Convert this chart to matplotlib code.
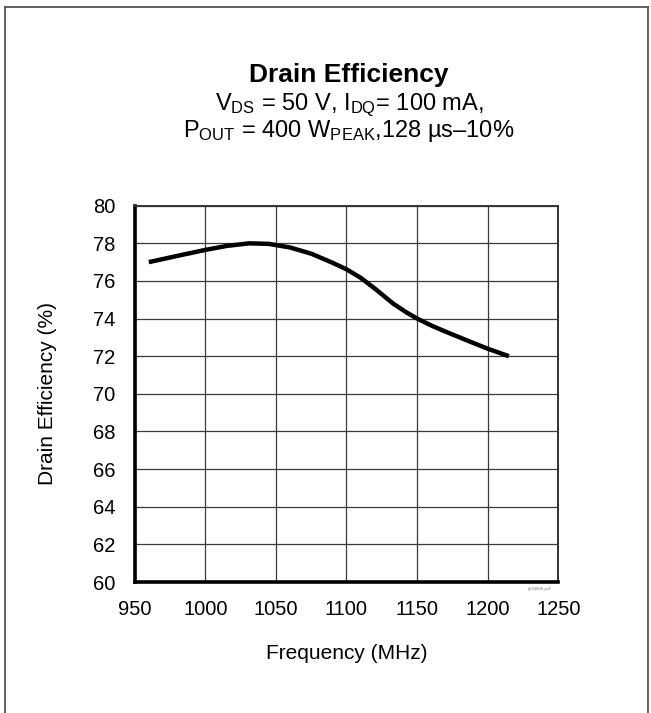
import matplotlib
matplotlib.use("Agg")
import matplotlib.pyplot as plt
from matplotlib.lines import Line2D

plt.rcParams['font.family'] = ['Liberation Sans', 'DejaVu Sans']
plt.rcParams['mathtext.fontset'] = 'custom'
plt.rcParams['mathtext.rm'] = 'Liberation Sans'
plt.rcParams['mathtext.it'] = 'Liberation Sans'

freq = [960, 980, 1000, 1015, 1031, 1045, 1060, 1075, 1090, 1100, 1110, 1120,
        1133, 1142, 1150, 1161, 1172, 1185, 1200, 1215]
eff = [77.0, 77.33, 77.65, 77.86, 78.0, 77.97, 77.78, 77.45, 76.97, 76.62, 76.17, 75.6,
       74.8, 74.35, 74.0, 73.6, 73.25, 72.85, 72.4, 72.0]

xticks = [950, 1000, 1050, 1100, 1150, 1200, 1250]
yticks = [60, 62, 64, 66, 68, 70, 72, 74, 76, 78, 80]

W, H = 651, 713
fig = plt.figure(figsize=(W / 100, H / 100), dpi=100)
ax = fig.add_axes([134.7 / W, 1 - 582 / H, (558.3 - 134.7) / W, (582 - 205.7) / H])

ax.plot(freq, eff, color='black', lw=3.2, solid_capstyle='butt', solid_joinstyle='round')

ax.set_xlim(950, 1250)
ax.set_ylim(60, 80)
ax.set_xticks(xticks)
ax.set_yticks(yticks)
ax.grid(True, color='#3a3a3a', lw=0.9)
ax.tick_params(axis='x', length=0, labelsize=14.5, pad=13)
ax.tick_params(axis='y', length=0, labelsize=14.5, pad=14)
for s in ['left', 'bottom']:
    ax.spines[s].set_linewidth(2.6)
    ax.spines[s].set_color('black')
for s in ['top', 'right']:
    ax.spines[s].set_linewidth(1.4)
    ax.spines[s].set_color('#333333')

ax.set_xlabel('Frequency (MHz)', fontsize=15, labelpad=18)
ax.set_ylabel('Drain Efficiency (%)', fontsize=15, labelpad=26)

fig.text(349 / W, 1 - 75 / H, 'Drain Efficiency', ha='center', va='center',
         fontsize=19, fontweight='bold')
fig.text(349 / W, 1 - 105 / H, r'V$_{\mathrm{DS}}$ = 50 V, I$_{\mathrm{DQ}}$= 100 mA,',
         ha='center', va='center', fontsize=17)
fig.text(349 / W, 1 - 131 / H, r'P$_{\mathrm{OUT}}$ = 400 W$_{\mathrm{PEAK}}$,128 µs–10%',
         ha='center', va='center', fontsize=17)
fig.text(540 / W, 1 - 589 / H, 'g50460fr-gr4', ha='center', va='center',
         fontsize=3, color='#777777')

# frame round the page
for xs, ys in [([5, 5], [713, 7]), ([5, 648], [7, 7]), ([648, 648], [7, 713])]:
    fig.add_artist(Line2D([x / W for x in xs], [1 - y / H for y in ys],
                          color='#555555', lw=1.3, transform=fig.transFigure))

fig.savefig('out.png', dpi=100)
